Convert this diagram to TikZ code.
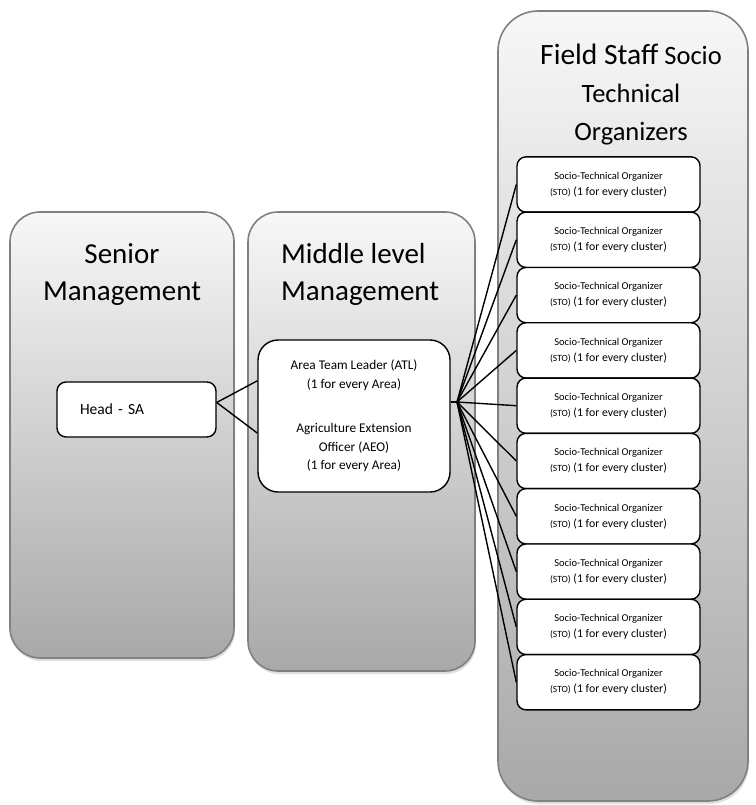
\documentclass[tikz,border=0pt]{standalone}
\usepackage{fontspec}
\setmainfont{Carlito}
\usetikzlibrary{positioning,shadows}

\begin{document}
\begin{tikzpicture}[x=1pt,y=-1pt,node distance=55.3pt,
	column/.style={draw=black!50,line width=1.6pt,rounded corners=30pt,top color=black!3,bottom color=black!34,drop shadow={opacity=.25,shadow xshift=1pt,shadow yshift=-3pt}},
	box node/.style={draw,fill=white,line width=1.4pt,rounded corners=9pt},
	sto node/.style={box node,minimum width=183pt,minimum height=55.3pt,align=center,inner sep=0pt,font=\fontsize{11.8}{16}\selectfont},
	title/.style={inner sep=0pt,font=\fontsize{29}{37}\selectfont}]
		
		\useasboundingbox (0,0) rectangle (755,805);
		
		% the three columns
		\path[column] (10,212) rectangle (234,658);
		\path[column] (248,212) rectangle (475,671);
		\path[column,rounded corners=40pt] (498,11) rectangle (748,801);
		
		\node[title, align=center, anchor=base] (senior) at (122,300) {Senior\\Management};
		\node[title, align=left, anchor=base west] (middle) at (281,300) {Middle level\\Management};
		\node[title, align=center, anchor=base, font=\fontsize{26.5}{38}\selectfont] (field) at (631,141) {{\fontsize{29.5}{38}\selectfont Field Staff} Socio\\Technical\\Organizers};
		
		\node[box node, text width=113pt, align=left, inner xsep=23pt, minimum height=55pt, font=\fontsize{15.5}{18}\selectfont] (head) at (136.5,409.5) {Head - SA};
		\node[box node, style={rounded corners=20pt}, minimum width=192pt, minimum height=152pt, align=center, font=\fontsize{13.3}{18.5}\selectfont] (aeo) at (354,416) {Area Team Leader (ATL)\\(1 for every Area)\\[26pt]Agriculture Extension\\Officer (AEO)\\(1 for every Area)};
		
		\node[sto node] (s1) at (608.5,184.5) {{\fontsize{10.5}{16}\selectfont Socio-Technical Organizer}\\{\fontsize{9.5}{16}\selectfont(STO)} (1 for every cluster)};
		\node[sto node] (s2) [below of=s1] {{\fontsize{10.5}{16}\selectfont Socio-Technical Organizer}\\{\fontsize{9.5}{16}\selectfont(STO)} (1 for every cluster)};
		\node[sto node] (s3) [below of=s2] {{\fontsize{10.5}{16}\selectfont Socio-Technical Organizer}\\{\fontsize{9.5}{16}\selectfont(STO)} (1 for every cluster)};
		\node[sto node] (s4) [below of=s3] {{\fontsize{10.5}{16}\selectfont Socio-Technical Organizer}\\{\fontsize{9.5}{16}\selectfont(STO)} (1 for every cluster)};
		\node[sto node] (s5) [below of=s4] {{\fontsize{10.5}{16}\selectfont Socio-Technical Organizer}\\{\fontsize{9.5}{16}\selectfont(STO)} (1 for every cluster)};
		\node[sto node] (s6) [below of=s5] {{\fontsize{10.5}{16}\selectfont Socio-Technical Organizer}\\{\fontsize{9.5}{16}\selectfont(STO)} (1 for every cluster)};
		\node[sto node] (s7) [below of=s6] {{\fontsize{10.5}{16}\selectfont Socio-Technical Organizer}\\{\fontsize{9.5}{16}\selectfont(STO)} (1 for every cluster)};
		\node[sto node] (s8) [below of=s7] {{\fontsize{10.5}{16}\selectfont Socio-Technical Organizer}\\{\fontsize{9.5}{16}\selectfont(STO)} (1 for every cluster)};
		\node[sto node] (s9) [below of=s8] {{\fontsize{10.5}{16}\selectfont Socio-Technical Organizer}\\{\fontsize{9.5}{16}\selectfont(STO)} (1 for every cluster)};
		\node[sto node] (s10) [below of=s9] {{\fontsize{10.5}{16}\selectfont Socio-Technical Organizer}\\{\fontsize{9.5}{16}\selectfont(STO)} (1 for every cluster)};
		
		\coordinate (fan) at (457,402);
		
		\path[line width=1.4pt]
		(head.5) edge (aeo.160)
		edge (aeo.190)
		(fan -| aeo.east) edge (fan)
		(fan) edge (s1.west)
		edge (s2.west)
		edge (s3.west)
		edge (s4.west)
		edge (s5.west)
		edge (s6.west)
		edge (s7.west)
		edge (s8.west)
		edge (s9.west)
		edge (s10.west);
		
		\end{tikzpicture}
\end{document}
